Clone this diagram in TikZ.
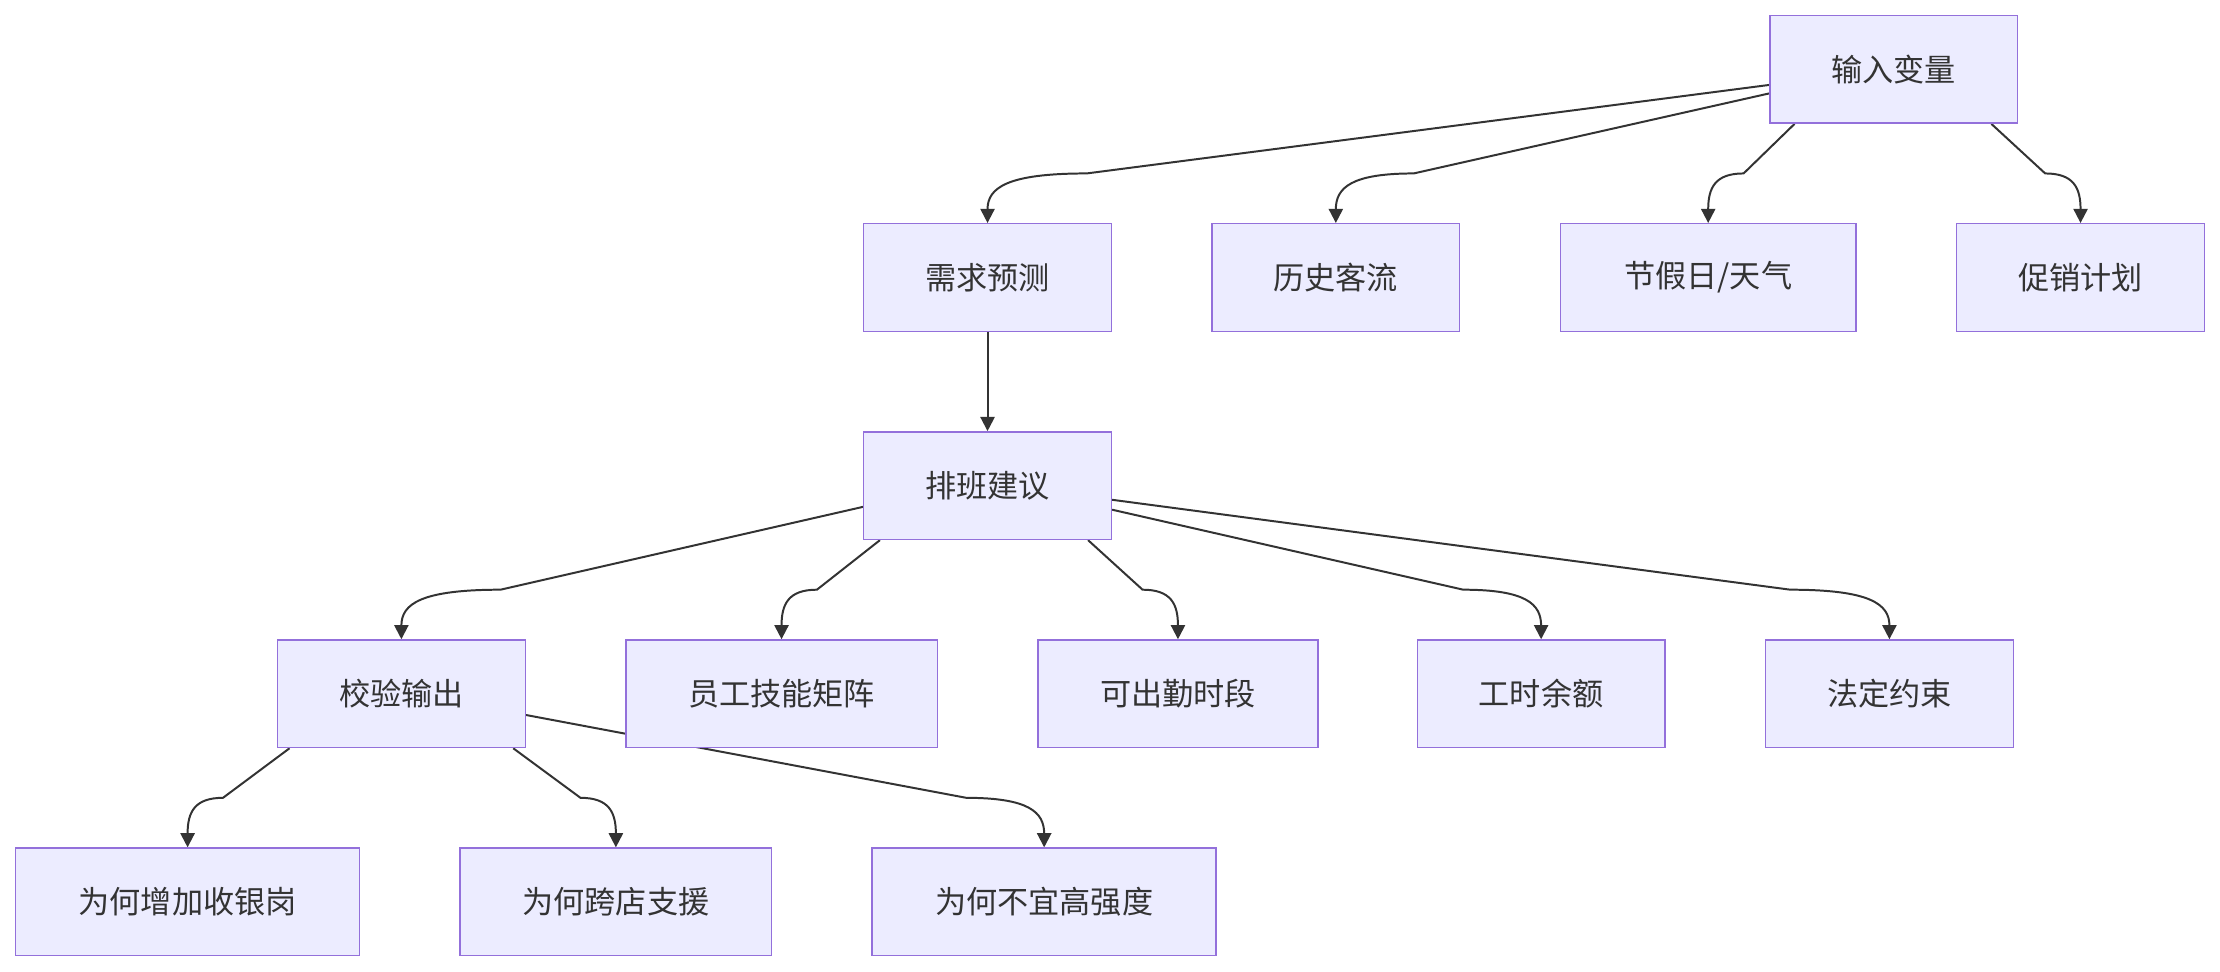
\documentclass[tikz,border=0pt]{standalone}
\usepackage{fontspec}
\newfontfamily\cjk{Noto Sans CJK SC}
\usetikzlibrary{calc,arrows.meta}
\definecolor{nfill}{HTML}{ECECFF}
\definecolor{nline}{HTML}{9370DB}
\definecolor{eline}{HTML}{333333}
\begin{document}
\begin{tikzpicture}[x=0.5pt,y=-0.5pt,
  n/.style={draw=nline,fill=nfill,line width=0.5pt,minimum height=38pt,inner sep=0pt,font=\cjk\fontsize{11}{13}\selectfont,text=eline},
  e/.style={draw=eline,line width=0.7pt,-{Triangle[length=5pt,width=5pt]}}]
\useasboundingbox (0,0) rectangle (1568,686);
\node[n,minimum width=87.5pt] (in) at (1337.5,49) {输入变量};
\node[n,minimum width=87.5pt] (xq) at (697.5,196) {需求预测};
\node[n,minimum width=87.5pt] (ls) at (943.5,196) {历史客流};
\node[n,minimum width=104.5pt] (jj) at (1206.5,196) {节假日/天气};
\node[n,minimum width=87.5pt] (cx) at (1469.5,196) {促销计划};
\node[n,minimum width=87.5pt] (pb) at (697.5,343) {排班建议};
\node[n,minimum width=87.5pt] (jy) at (283.5,490) {校验输出};
\node[n,minimum width=110pt] (yg) at (552,490) {员工技能矩阵};
\node[n,minimum width=99pt] (kc) at (832,490) {可出勤时段};
\node[n,minimum width=87.5pt] (gs) at (1088.5,490) {工时余额};
\node[n,minimum width=87.5pt] (fd) at (1334.5,490) {法定约束};
\node[n,minimum width=121.5pt] (w1) at (132.5,637) {为何增加收银岗};
\node[n,minimum width=110pt] (w2) at (435,637) {为何跨店支援};
\node[n,minimum width=121.5pt] (w3) at (737.5,637) {为何不宜高强度};
\begin{scope}[on background layer/.style={}]
\end{scope}
\newcommand\myedge[4]{%
  \draw[e] #1 -- ($(#2.north)+(#3*#4,-35)$) .. controls ($(#2.north)+(#3*#4*0.2,-35)$) and ($(#2.north)+(0,-25)$) .. (#2.north);}
\pgfdeclarelayer{bg}\pgfsetlayers{bg,main}
\begin{pgfonlayer}{bg}
\myedge{($(in.west)+(0,11)$)}{xq}{1}{70}
\myedge{($(in.west)+(0,17)$)}{ls}{1}{55}
\myedge{($(in.south west)+(18,0)$)}{jj}{1}{25}
\myedge{($(in.south east)+(-19,0)$)}{cx}{-1}{25}
\draw[e] (xq.south) -- (pb.north);
\myedge{($(pb.west)+(0,15)$)}{jy}{1}{70}
\myedge{($(pb.south west)+(12,0)$)}{yg}{1}{25}
\myedge{($(pb.south east)+(-17,0)$)}{kc}{-1}{25}
\myedge{($(pb.east)+(0,17)$)}{gs}{-1}{55}
\myedge{($(pb.east)+(0,10)$)}{fd}{-1}{70}
\myedge{($(jy.south west)+(9,0)$)}{w1}{1}{25}
\myedge{($(jy.south east)+(-9,0)$)}{w2}{-1}{25}
\myedge{($(jy.east)+(0,15)$)}{w3}{-1}{55}
\end{pgfonlayer}
\end{tikzpicture}
\end{document}
